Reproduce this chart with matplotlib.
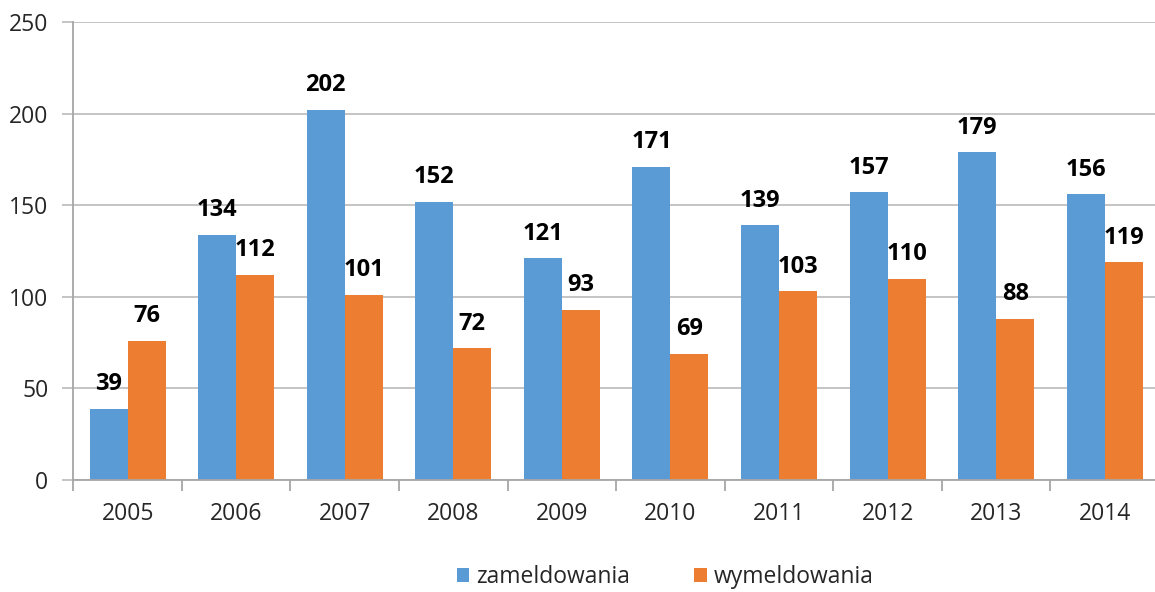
import numpy as np
import matplotlib
matplotlib.use("Agg")
import matplotlib.pyplot as plt

# dane
years = ["2005", "2006", "2007", "2008", "2009", "2010", "2011", "2012", "2013", "2014"]
zameldowania = [39, 134, 202, 152, 121, 171, 139, 157, 179, 156]
wymeldowania = [76, 112, 101, 72, 93, 69, 103, 110, 88, 119]

plt.rcParams['font.family'] = ['Open Sans', 'DejaVu Sans']

fig = plt.figure(figsize=(11.55, 5.92), dpi=100)
ax = fig.add_axes([0.0635, 0.189, 0.94, 0.774])

x = np.arange(len(years))
w = 0.35
blue = "#5B9BD5"
orange = "#ED7D31"
b1 = ax.bar(x - w / 2, zameldowania, w, color=blue, label="zameldowania", zorder=2)
b2 = ax.bar(x + w / 2, wymeldowania, w, color=orange, label="wymeldowania", zorder=2)

for bars in (b1, b2):
    for r in bars:
        ax.annotate(str(int(r.get_height())), (r.get_x() + r.get_width() / 2, r.get_height()),
                    xytext=(0, 9), textcoords="offset points", ha="center", va="bottom",
                    fontsize=17, fontweight="bold", color="black")

ax.set_xlim(-0.5, len(years) - 0.5)
ax.set_ylim(0, 250)
ax.set_yticks(range(0, 251, 50))
ax.yaxis.grid(True, color="#BFBFBF", linewidth=1.3, zorder=0)
ax.set_axisbelow(True)

ax.set_xticks(x)
ax.set_xticklabels(years)
ax.set_xticks(np.arange(-0.5, len(years), 1), minor=True)
ax.tick_params(axis="x", which="major", length=0, pad=16, labelsize=16.5, colors="#262626")
ax.tick_params(axis="x", which="minor", length=8, width=1.3, color="#A6A6A6")
ax.tick_params(axis="y", length=8, width=1.3, color="#BFBFBF", pad=10, labelsize=16.5, labelcolor="#262626")

for s in ("top", "right"):
    ax.spines[s].set_visible(False)
for s in ("left", "bottom"):
    ax.spines[s].set_color("#A6A6A6")
    ax.spines[s].set_linewidth(1.3)

fig.legend(handles=[b1, b2], loc="lower center", bbox_to_anchor=(0.576, -0.03), ncol=2,
           frameon=False, fontsize=16.5, handlelength=0.55, handleheight=0.55,
           handletextpad=0.3, columnspacing=2.8, labelcolor="#262626")

fig.savefig("out.png", dpi=100)
